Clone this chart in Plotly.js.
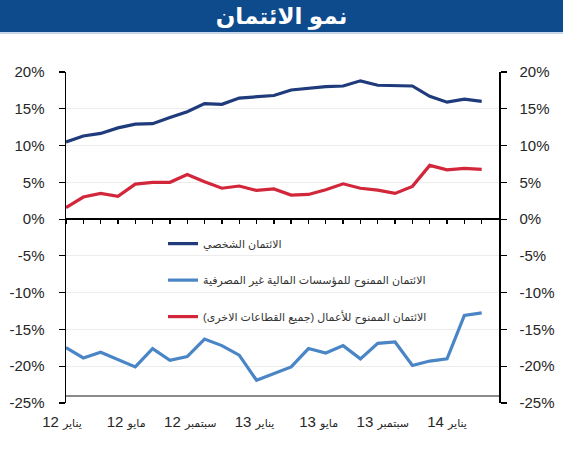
<!DOCTYPE html>
<html>
<head>
<meta charset="utf-8">
<script src="https://cdn.plot.ly/plotly-3.0.1.min.js"></script>
<style>
  html, body { margin: 0; padding: 0; background: #ffffff; }
  #chart { width: 563px; height: 450px; }
</style>
</head>
<body>
<div id="chart"></div>
<script>
// Monthly credit growth, January 2012 to January 2014 (year-on-year, %)
const monthIdx = [0,1,2,3,4,5,6,7,8,9,10,11,12,13,14,15,16,17,18,19,20,21,22,23,24];

const personalCredit = [10.5,11.3,11.65,12.4,12.9,12.97,13.8,14.6,15.7,15.6,16.46,16.6,16.8,
                        17.55,17.8,18.0,18.1,18.8,18.2,18.1,18.1,16.7,15.9,16.3,16.0];
const nbfiCredit     = [-17.46,-18.87,-18.1,-19.05,-20.1,-17.6,-19.2,-18.7,-16.3,-17.2,-18.5,-21.9,-21.0,
                        -20.1,-17.6,-18.2,-17.2,-19.0,-16.9,-16.7,-19.9,-19.3,-19.0,-13.1,-12.75];
const businessCredit = [1.55,3.0,3.5,3.1,4.76,5.0,5.0,6.07,5.08,4.2,4.5,3.9,4.1,
                        3.27,3.35,4.0,4.8,4.2,3.95,3.5,4.45,7.3,6.7,6.9,6.76];

const seriesNames = [
  'الائتمان الشخصي',
  'الائتمان الممنوح للمؤسسات المالية غير المصرفية',
  'الائتمان الممنوح للأعمال (جميع القطاعات الاخرى)\u200F'
];

// bottom date labels (month word + two-digit year), every four months
const labelMonthWords = ['يناير','مايو','سبتمبر','يناير','مايو','سبتمبر','يناير'];
const labelYears      = ['12','12','12','13','13','13','14'];

const yTickVals = [20,15,10,5,0,-5,-10,-15,-20,-25];
const yTickText = yTickVals.map(v => v + '%');

// ---- geometry helpers (pixel layout of the 563x450 page) ----
const W = 563, H = 450;
const M = { l: 66, r: 64, t: 72, b: 47.25 };
const plotW = W - M.l - M.r, plotH = H - M.t - M.b;
const yMin = -25, yMax = 20;
const pxToPaperX = px => (px - M.l) / plotW;
const pxToPaperY = py => (H - M.b - py) / plotH;
const valToPaperY = v => (v - yMin) / (yMax - yMin);

const FONT = 'Arial, "Liberation Sans", "DejaVu Sans", sans-serif';
const tickFont = { family: FONT, size: 15, color: '#262626' };

// date labels are spread evenly along the bottom, one slot per label,
// the first one starting just left of the axis
const labelSlots = labelYears.map((_, i) => i);
const slotPx = 64.17, firstSlotPx = 62;
const slotRange = [0, plotW / slotPx];
const labelText = labelYears.map((yr, i) =>
  "<span style='font-size:11px'>" + labelMonthWords[i] + '</span> ' + yr);

const traces = [
  { x: monthIdx, y: personalCredit, name: seriesNames[0], type: 'scatter', mode: 'lines',
    line: { color: '#1f3b7c', width: 3.2 } },
  { x: monthIdx, y: nbfiCredit, name: seriesNames[1], type: 'scatter', mode: 'lines',
    line: { color: '#4a85c6', width: 3.2 } },
  { x: monthIdx, y: businessCredit, name: seriesNames[2], type: 'scatter', mode: 'lines',
    line: { color: '#d2263a', width: 3.2 } }
].map((t, i) => Object.assign(t, { legendgroup: 'g' + i }));

// an empty, non-drawing trace that registers the secondary axes (right scale, date labels)
traces.push({ x: [null], y: [null], xaxis: 'x2', yaxis: 'y2', type: 'scatter', mode: 'lines',
  showlegend: false, hoverinfo: 'skip', line: { width: 0 } });

const layout = {
  width: W, height: H,
  margin: M,
  paper_bgcolor: '#ffffff',
  plot_bgcolor: 'rgba(0,0,0,0)',
  showlegend: true,
  title: {
    text: '<b>نمو الائتمان</b>',
    font: { family: FONT, size: 23, color: '#ffffff' },
    x: 0.5, xref: 'container', xanchor: 'center',
    y: 1 - 16 / H, yref: 'container', yanchor: 'middle'
  },
  legend: {
    x: pxToPaperX(163), y: pxToPaperY(229), xanchor: 'left', yanchor: 'top',
    bgcolor: 'rgba(0,0,0,0)', borderwidth: 0,
    font: { family: FONT, size: 11, color: '#333333' },
    traceorder: 'grouped', tracegroupgap: 17.5, itemwidth: 30
  },
  // month ticks along the zero line
  xaxis: {
    range: [0, 25], anchor: 'free', position: valToPaperY(0),
    showline: false, showgrid: false, zeroline: false,
    tickmode: 'array', tickvals: monthIdx, showticklabels: false,
    ticks: 'outside', ticklen: 4, tickwidth: 1.4, tickcolor: '#000000'
  },
  // base line and date labels
  xaxis2: {
    overlaying: 'x', range: slotRange, anchor: 'free', position: valToPaperY(-23.9),
    showline: true, linecolor: '#8a8a8a', linewidth: 1.6,
    showgrid: false, zeroline: false,
    tickmode: 'array', tickvals: labelSlots, ticktext: labelText,
    ticks: 'outside', ticklen: 12, tickcolor: 'rgba(0,0,0,0)',
    ticklabelshift: firstSlotPx - M.l,
    tickfont: tickFont
  },
  yaxis: {
    range: [yMin, yMax], side: 'left', anchor: 'x',
    showline: true, linecolor: '#000000', linewidth: 1.5,
    ticks: 'outside', ticklen: 6, tickcolor: '#000000', tickwidth: 1.2,
    tickmode: 'array', tickvals: yTickVals, ticktext: yTickText,
    tickfont: tickFont, ticklabelstandoff: 11,
    showgrid: true, gridcolor: '#ececec', gridwidth: 1,
    zeroline: true, zerolinecolor: '#000000', zerolinewidth: 1.5
  },
  yaxis2: {
    overlaying: 'y', side: 'right', anchor: 'x', range: [yMin, yMax],
    showline: true, linecolor: '#000000', linewidth: 1.5,
    ticks: 'outside', ticklen: 6, tickcolor: '#000000', tickwidth: 1.2,
    tickmode: 'array', tickvals: yTickVals, ticktext: yTickText,
    tickfont: tickFont, ticklabelstandoff: 10,
    showgrid: false, zeroline: false
  },
  shapes: [
    { type: 'rect', xref: 'paper', yref: 'paper', layer: 'below',
      x0: pxToPaperX(0), x1: pxToPaperX(W), y0: pxToPaperY(32), y1: pxToPaperY(0),
      fillcolor: '#0d4b8d', line: { width: 0 } },
    { type: 'line', xref: 'paper', yref: 'paper', layer: 'below',
      x0: pxToPaperX(0), x1: pxToPaperX(W), y0: pxToPaperY(33), y1: pxToPaperY(33),
      line: { color: '#b5cbe3', width: 1.5 } }
  ]
};

Plotly.newPlot('chart', traces, layout, { displayModeBar: false, staticPlot: true });
</script>
</body>
</html>
